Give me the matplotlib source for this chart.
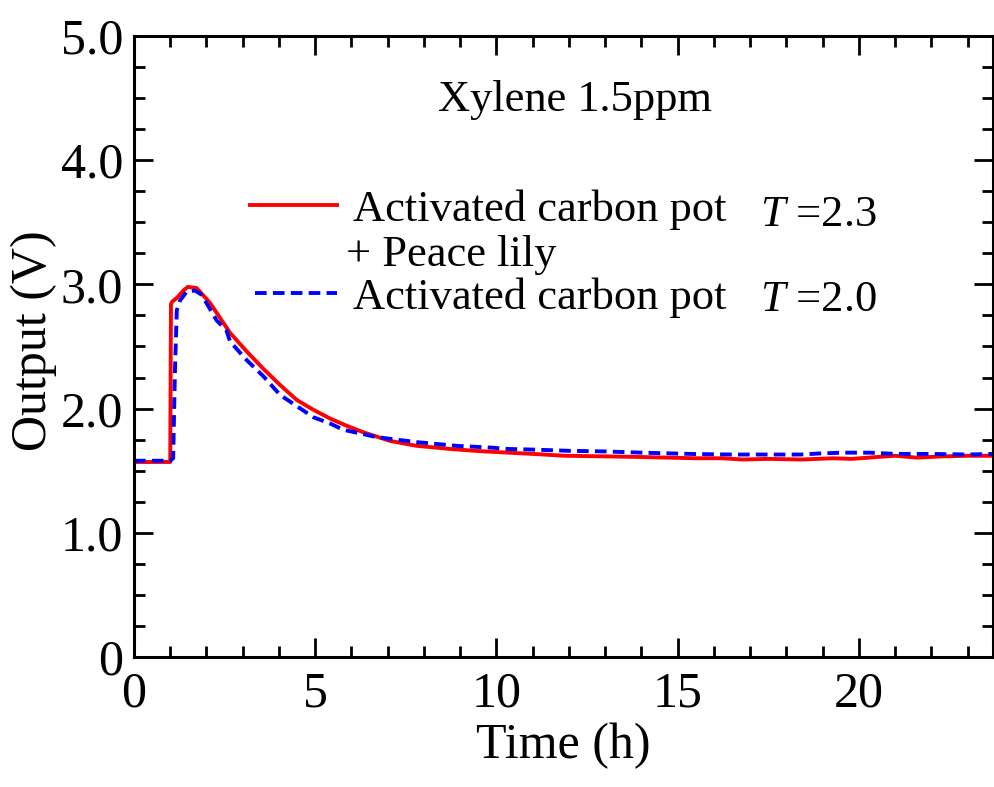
import matplotlib
matplotlib.use("Agg")
import matplotlib.pyplot as plt
from matplotlib.ticker import MultipleLocator

plt.rcParams['font.family'] = ['Liberation Serif', 'DejaVu Serif']
plt.rcParams['mathtext.fontset'] = 'custom'
plt.rcParams['mathtext.rm'] = 'Liberation Serif'
plt.rcParams['mathtext.it'] = 'Liberation Serif:italic'

# activated carbon pot + peace lily (red, solid)
t_lily = [0, 1.0, 1.02, 1.05, 1.18, 1.36, 1.49, 1.73, 2.1, 2.65, 3.11, 3.57,
          4.03, 4.49, 4.95, 5.41, 5.8, 6.32, 7.06, 7.8, 8.72, 9.4, 10.0, 11.0,
          11.9, 13.0, 14.0, 15.5, 16.2, 16.8, 17.5, 18.4, 19.3, 19.8, 20.5,
          21.0, 21.6, 22.3, 23.0, 23.7]
v_lily = [1.57, 1.57, 2.84, 2.86, 2.89, 2.95, 2.98, 2.97, 2.85, 2.61, 2.46, 2.32,
          2.19, 2.07, 1.99, 1.92, 1.87, 1.81, 1.74, 1.70, 1.675, 1.66, 1.65, 1.635,
          1.62, 1.615, 1.61, 1.60, 1.60, 1.59, 1.595, 1.59, 1.60, 1.595, 1.61,
          1.62, 1.605, 1.615, 1.62, 1.62]

# activated carbon pot only (blue, dashed)
t_pot = [0, 1.0, 1.08, 1.13, 1.18, 1.27, 1.45, 1.68, 1.85, 2.0, 2.28, 2.55,
         2.65, 3.11, 3.57, 4.03, 4.49, 4.95, 5.41, 5.77, 6.7, 7.8, 8.9, 9.9,
         10.3, 11.0, 12.0, 13.0, 14.0, 15.5, 16.5, 17.5, 18.4, 19.0, 19.6,
         20.3, 21.0, 22.0, 23.0, 23.7]
v_pot = [1.58, 1.58, 1.60, 2.30, 2.79, 2.87, 2.94, 2.95, 2.92, 2.85, 2.71, 2.63,
         2.54, 2.39, 2.26, 2.11, 2.02, 1.93, 1.88, 1.83, 1.77, 1.73, 1.70, 1.685,
         1.675, 1.67, 1.66, 1.655, 1.645, 1.634, 1.63, 1.63, 1.63, 1.64, 1.645,
         1.645, 1.635, 1.635, 1.63, 1.635]

x_ticks = [0, 5, 10, 15, 20]
y_ticks = [0, 1, 2, 3, 4, 5]
y_tick_labels = ['0', '1.0', '2.0', '3.0', '4.0', '5.0']

fig = plt.figure(figsize=(9.94, 7.87), dpi=100)
ax = fig.add_axes([0.1348, 0.1652, 0.8642, 0.7891])

ax.plot(t_lily, v_lily, color='red', lw=2.8, solid_joinstyle='round')
ax.plot(t_pot, v_pot, color='blue', lw=2.8, linestyle=(0, (3, 1.6)))

ax.set_xlim(0, 23.7)
ax.set_ylim(0, 5.0)
ax.set_xticks(x_ticks)
ax.set_yticks(y_ticks)
ax.set_yticklabels(y_tick_labels)
ax.xaxis.set_minor_locator(MultipleLocator(1))
ax.yaxis.set_minor_locator(MultipleLocator(0.25))
ax.tick_params(which='both', direction='in', top=True, right=True, width=2,
               labelsize=36)
ax.tick_params(which='major', length=14)
ax.tick_params(which='minor', length=8)
ax.tick_params(axis='x', pad=10)
ax.tick_params(axis='y', pad=8)
for s in ax.spines.values():
    s.set_linewidth(2.2)

ax.set_xlabel('Time (h)', fontsize=36)
ax.set_ylabel('Output (V)', fontsize=36)
ax.yaxis.set_label_coords(-0.09, 0.51)

ax.text(0.513, 0.897, 'Xylene 1.5ppm', transform=ax.transAxes, fontsize=32,
        ha='center', va='center')

# legend keys
ax.plot([0.135, 0.236], [0.728, 0.728], transform=ax.transAxes, color='red', lw=2.8)
ax.plot([0.141, 0.236], [0.586, 0.586], transform=ax.transAxes, color='blue',
        lw=2.8, linestyle=(0, (3, 1.6)))
ax.text(0.255, 0.72, 'Activated carbon pot', transform=ax.transAxes,
        fontsize=32, va='center')
ax.text(0.2468, 0.647, '+ Peace lily', transform=ax.transAxes,
        fontsize=32, va='center')
ax.text(0.255, 0.578, 'Activated carbon pot', transform=ax.transAxes,
        fontsize=32, va='center')
ax.text(0.729, 0.712, '$T$ =2.3', transform=ax.transAxes, fontsize=32, va='center')
ax.text(0.729, 0.575, '$T$ =2.0', transform=ax.transAxes, fontsize=32, va='center')

fig.savefig('out.png', dpi=100)
